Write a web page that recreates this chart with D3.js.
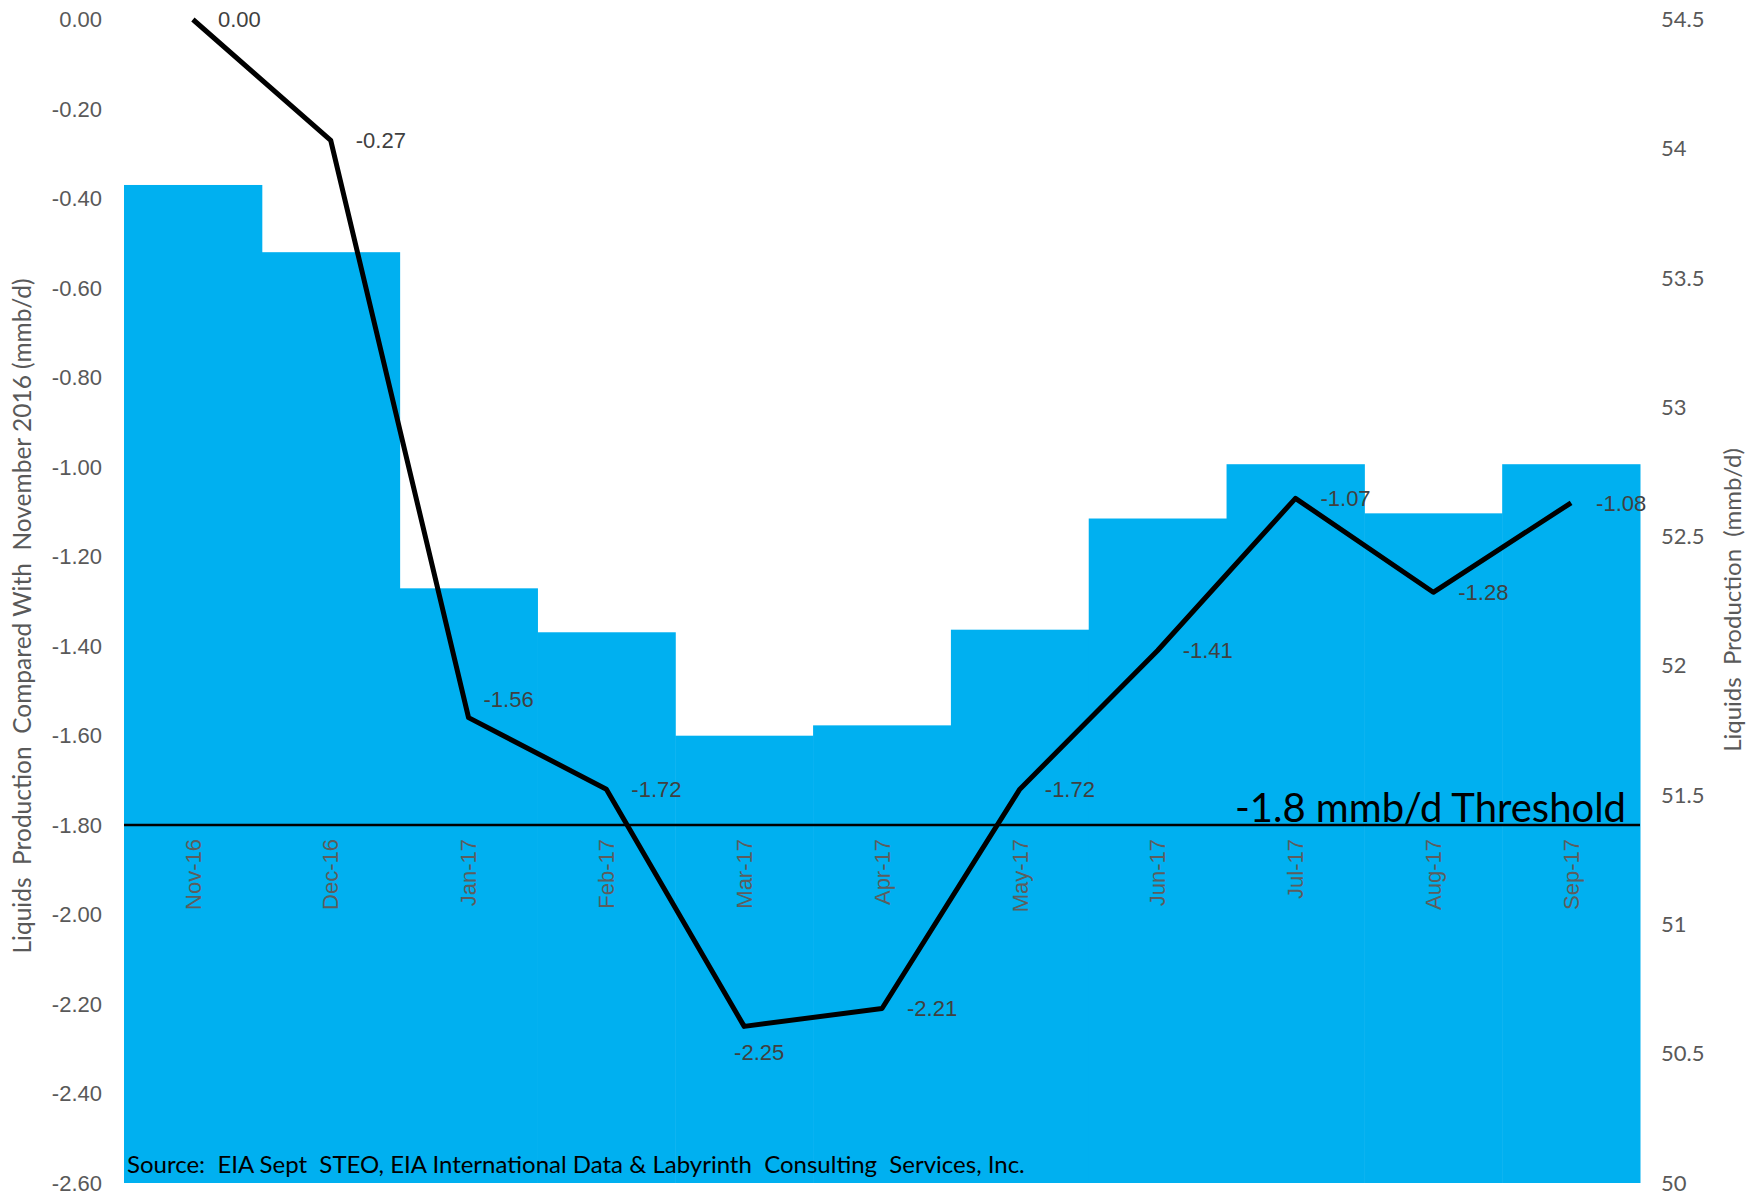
<!DOCTYPE html>
<head>
  <meta charset="utf-8">
  <script src="https://d3js.org/d3.v7.min.js"></script>
  <style>
  body { margin: 0; background: white; }
  #chart text { white-space: pre; }
  .tickL text { font: 22px "Liberation Sans", Arial, sans-serif; fill: #595959; }
  .tickR text { font: 22px Lato, sans-serif; fill: #595959; }
  .cat { font: 22px "Liberation Sans", Arial, sans-serif; fill: #5d5d5d; }
  .lbl { font: 22px "Liberation Sans", Arial, sans-serif; fill: #404040; }
  .title { fill: #595959; font-family: Lato, sans-serif; }
  </style>
</head>

<body>
  <svg id="chart"></svg>
  <script>

    // monthly categories
    var months = ['Nov-16', 'Dec-16', 'Jan-17', 'Feb-17', 'Mar-17', 'Apr-17',
                  'May-17', 'Jun-17', 'Jul-17', 'Aug-17', 'Sep-17'];

    // liquids production, mmb/d (right axis, bars)
    var production = [53.86, 53.60, 52.30, 52.13, 51.73, 51.77, 52.14, 52.57, 52.78, 52.59, 52.78];

    // change vs November 2016, mmb/d (left axis, line)
    var change = [0.00, -0.27, -1.56, -1.72, -2.25, -2.21, -1.72, -1.41, -1.07, -1.28, -1.08];

    var leftTicks = [0, -0.2, -0.4, -0.6, -0.8, -1.0, -1.2, -1.4, -1.6, -1.8, -2.0, -2.2, -2.4, -2.6];
    var rightTicks = [50, 50.5, 51, 51.5, 52, 52.5, 53, 53.5, 54, 54.5];
    var threshold = -1.8;

    var width = 1747,
        height = 1197,
        plotLeft = 124,
        plotRight = 1640,
        plotTop = 19.5,
        plotBottom = 1183;

    // plain hyphen for negatives, like the original
    var fmt2 = function(d) { return d3.format('.2f')(d).replace('\u2212', '-'); };

    var svg = d3.select('#chart')
        .attr('width', width)
        .attr('height', height);

    var x = d3.scaleBand()
        .domain(months)
        .range([plotLeft, plotRight])
        .padding(0);

    var yL = d3.scaleLinear()
        .domain([-2.6, 0])
        .range([plotBottom, plotTop]);

    var yR = d3.scaleLinear()
        .domain([50, 54.5])
        .range([plotBottom, plotTop]);

    // bars
    svg.append('g').selectAll('rect')
        .data(production)
      .enter().append('rect')
        .attr('x', function(d, i) { return x(months[i]); })
        .attr('width', x.bandwidth() + 0.5)
        .attr('y', function(d) { return yR(d); })
        .attr('height', function(d) { return yR(50) - yR(d); })
        .style('fill', '#00B0F0');

    // threshold line (acts as category axis)
    svg.append('line')
        .attr('x1', plotLeft).attr('x2', plotRight)
        .attr('y1', yL(threshold)).attr('y2', yL(threshold))
        .style('stroke', '#000')
        .style('stroke-width', 2.5);

    // category labels
    svg.append('g').selectAll('text')
        .data(months)
      .enter().append('text')
        .attr('class', 'cat')
        .attr('transform', function(d) {
          return 'translate(' + (x(d) + x.bandwidth() / 2) + ',' + (yL(threshold) + 14) + ') rotate(-90)';
        })
        .attr('dy', '0.35em')
        .attr('text-anchor', 'end')
        .text(function(d) { return d; });

    // left axis
    var axL = svg.append('g')
        .attr('class', 'tickL')
        .attr('transform', 'translate(' + (plotLeft - 22) + ',0)')
        .call(d3.axisLeft(yL).tickValues(leftTicks).tickSize(0).tickPadding(0).tickFormat(fmt2));
    axL.select('.domain').remove();

    // right axis
    var axR = svg.append('g')
        .attr('class', 'tickR')
        .attr('transform', 'translate(1661,0)')
        .call(d3.axisRight(yR).tickValues(rightTicks).tickSize(0).tickPadding(0).tickFormat(d3.format('~g')));
    axR.select('.domain').remove();

    // change line
    var line = d3.line()
        .x(function(d, i) { return x(months[i]) + x.bandwidth() / 2; })
        .y(function(d) { return yL(d); });

    svg.append('path')
        .datum(change)
        .attr('d', line)
        .style('fill', 'none')
        .style('stroke', '#000')
        .style('stroke-width', 5)
        .style('stroke-linejoin', 'round');

    // data labels: right of point, Mar-17 placed below
    svg.append('g').selectAll('text')
        .data(change)
      .enter().append('text')
        .attr('class', 'lbl')
        .attr('x', function(d, i) {
          var cx = x(months[i]) + x.bandwidth() / 2;
          if (i === 4) return cx + 15;
          return i === 2 ? cx + 15 : cx + 25;
        })
        .attr('y', function(d, i) { return yL(d) + (i === 4 ? 26 : (i === 2 ? -18 : 0)); })
        .attr('dy', '0.35em')
        .attr('text-anchor', function(d, i) { return i === 4 ? 'middle' : 'start'; })
        .text(fmt2);

    // threshold annotation
    svg.append('text')
        .attr('x', 1626)
        .attr('y', yL(threshold) - 3)
        .attr('text-anchor', 'end')
        .style('font', '40px Lato, sans-serif')
        .style('fill', '#000')
        .text('-1.8 mmb/d Threshold');

    // source note
    svg.append('text')
        .attr('x', 127)
        .attr('y', 1173)
        .style('font', '24px Lato, sans-serif')
        .style('fill', '#000')
        .text('Source:  EIA Sept  STEO, EIA International Data & Labyrinth  Consulting  Services, Inc.');

    // axis titles
    svg.append('text')
        .attr('class', 'title')
        .style('font-size', '24.5px')
        .attr('transform', 'translate(22,616) rotate(-90)')
        .attr('dy', '0.35em')
        .attr('text-anchor', 'middle')
        .text('Liquids  Production  Compared With  November 2016 (mmb/d)');

    svg.append('text')
        .attr('class', 'title')
        .style('font-size', '24px')
        .attr('transform', 'translate(1733,600) rotate(-90)')
        .attr('dy', '0.35em')
        .attr('text-anchor', 'middle')
        .text('Liquids  Production  (mmb/d)');

  </script>
</body>
